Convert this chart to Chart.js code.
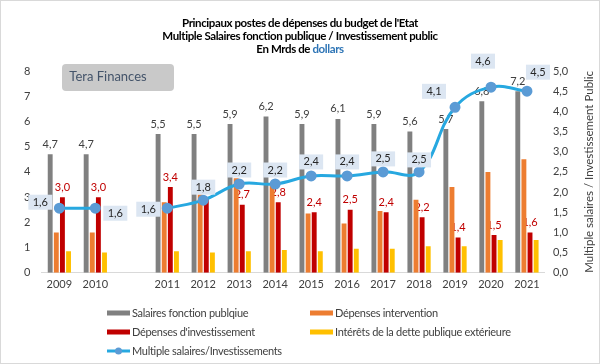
<!DOCTYPE html>
<html>
<head>
<meta charset="utf-8">
<script src="https://cdn.jsdelivr.net/npm/chart.js@4.4.1/dist/chart.umd.min.js"></script>
<style>
  html, body { margin: 0; padding: 0; background: #fff; }
  #wrap { width: 600px; height: 364px; position: relative; }
</style>
</head>
<body>
<div id="wrap"><canvas id="budgetChart"></canvas></div>
<script>
// Données (Mrds de dollars) - la colonne vide sépare 2010 et 2011
const years = ['2009', '2010', '', '2011', '2012', '2013', '2014', '2015', '2016', '2017', '2018', '2019', '2020', '2021'];
const salaires = [4.7, 4.7, null, 5.5, 5.5, 5.9, 6.2, 5.9, 6.1, 5.9, 5.6, 5.7, 6.8, 7.2];
const intervention = [1.6, 1.6, null, 2.8, 3.1, 3.75, 3.45, 2.35, 1.95, 2.45, 2.9, 3.4, 4.0, 4.5];
const investissement = [3.0, 3.0, null, 3.4, 3.0, 2.7, 2.8, 2.4, 2.5, 2.4, 2.2, 1.4, 1.5, 1.6];
const interets = [0.85, 0.8, null, 0.85, 0.8, 0.85, 0.9, 0.85, 0.95, 0.95, 1.05, 1.05, 1.3, 1.3];
const multiple = [1.6, 1.6, null, 1.6, 1.8, 2.2, 2.2, 2.4, 2.4, 2.5, 2.5, 4.1, 4.6, 4.5];

const titleLines = [
  'Principaux postes de dépenses du budget de l\'Etat',
  'Multiple Salaires fonction publique / Investissement public'
];
const rightTitle = 'Multiple salaires / Investissement Public';

// décalage des étiquettes bleues par rapport au point
const multOffsets = [[-19, -6], [20, 5], null, [-19, 1], [0, -13], [0, -14], [0, -14], [0, -14], [0, -14], [0, -13], [0, -12], [-21, -16], [-8, -26], [11, -19]];

const FONT = 'Lato, "Open Sans", sans-serif';
const fmt = v => v.toFixed(1).replace('.', ',');

function drawBarLabels(ctx, meta, values, color) {
  ctx.save();
  ctx.font = '11px ' + FONT;
  ctx.fillStyle = color;
  ctx.textAlign = 'center';
  ctx.textBaseline = 'middle';
  meta.data.forEach((bar, i) => {
    if (values[i] == null) return;
    ctx.fillText(fmt(values[i]), bar.x, bar.y - 10);
  });
  ctx.restore();
}

const decor = {
  id: 'decor',
  beforeDraw(chart) {
    const ctx = chart.ctx;
    ctx.save();
    ctx.fillStyle = '#fff';
    ctx.fillRect(0, 0, chart.width, chart.height);
    ctx.strokeStyle = '#d9d9d9';
    ctx.strokeRect(0.5, 0.5, chart.width - 1, chart.height - 1);
    ctx.restore();
  },
  beforeDatasetsDraw(chart) {
    // cartouche "Tera Finances"
    const ctx = chart.ctx;
    ctx.save();
    ctx.fillStyle = '#c9c9c9';
    ctx.beginPath();
    ctx.roundRect(62, 64, 112, 27, 4);
    ctx.fill();
    ctx.fillStyle = '#44546a';
    ctx.font = '13px ' + FONT;
    ctx.textAlign = 'center';
    ctx.textBaseline = 'middle';
    ctx.fillText('Tera Finances', 108, 77);
    ctx.restore();
  },
  afterDatasetDraw(chart, args) {
    if (args.index === 0) drawBarLabels(chart.ctx, args.meta, salaires, '#404040');
    if (args.index === 2) drawBarLabels(chart.ctx, args.meta, investissement, '#c00000');
  },
  afterDraw(chart) {
    const ctx = chart.ctx;
    const area = chart.chartArea;
    ctx.save();

    // titre
    ctx.fillStyle = '#000';
    ctx.font = 'bold 11.5px ' + FONT;
    ctx.letterSpacing = '-0.4px';
    ctx.textAlign = 'center';
    ctx.textBaseline = 'middle';
    ctx.fillText(titleLines[0], 300, 23);
    ctx.fillText(titleLines[1], 300, 36);
    const a = 'En Mrds de ', b = 'dollars';
    const wa = ctx.measureText(a).width, wb = ctx.measureText(b).width;
    const x0 = 300 - (wa + wb) / 2;
    ctx.textAlign = 'left';
    ctx.fillText(a, x0, 49);
    ctx.fillStyle = '#2e75b6';
    ctx.fillText(b, x0 + wa, 49);
    ctx.letterSpacing = '0px';

    // titre de l'axe droit, lu de bas en haut
    ctx.save();
    ctx.translate(589, (area.top + area.bottom) / 2);
    ctx.rotate(-Math.PI / 2);
    ctx.textAlign = 'center';
    ctx.fillStyle = '#404040';
    ctx.font = '11.5px ' + FONT;
    ctx.fillText(rightTitle, 0, 0);
    ctx.restore();

    // étiquettes du multiple
    const lineMeta = chart.getDatasetMeta(4);
    ctx.font = '11px ' + FONT;
    ctx.textAlign = 'center';
    lineMeta.data.forEach((pt, i) => {
      if (multiple[i] == null) return;
      const [dx, dy] = multOffsets[i];
      const cx = pt.x + dx, cy = pt.y + dy;
      ctx.fillStyle = '#dce6f2';
      ctx.fillRect(cx - 12, cy - 7.5, 24, 15);
      ctx.fillStyle = '#262626';
      ctx.fillText(fmt(multiple[i]), cx, cy);
    });

    // légende
    const items = chart.data.datasets;
    const pos = [[107, 313], [310, 313], [107, 332], [310, 332], [107, 351]];
    ctx.font = '11px ' + FONT;
    ctx.letterSpacing = '-0.3px';
    ctx.textAlign = 'left';
    items.forEach((ds, i) => {
      const [lx, ly] = pos[i];
      if (ds.type === 'line') {
        ctx.strokeStyle = ds.borderColor;
        ctx.lineWidth = 3;
        ctx.beginPath();
        ctx.moveTo(lx, ly);
        ctx.lineTo(lx + 23, ly);
        ctx.stroke();
        ctx.fillStyle = ds.pointBackgroundColor;
        ctx.beginPath();
        ctx.arc(lx + 11.5, ly, 3.5, 0, Math.PI * 2);
        ctx.fill();
      } else {
        ctx.fillStyle = ds.backgroundColor;
        ctx.fillRect(lx, ly - 2.5, 23, 5);
      }
      ctx.fillStyle = '#404040';
      ctx.fillText(ds.label, lx + 25, ly);
    });
    ctx.restore();
  }
};

const barBase = { categoryPercentage: 0.68, barPercentage: 0.8, yAxisID: 'y', order: 1 };

new Chart(document.getElementById('budgetChart'), {
  type: 'bar',
  data: {
    labels: years,
    datasets: [
      { ...barBase, label: 'Salaires fonction publqiue', data: salaires, backgroundColor: '#808080' },
      { ...barBase, label: 'Dépenses intervention', data: intervention, backgroundColor: '#ed7d31' },
      { ...barBase, label: 'Dépenses d\'investissement', data: investissement, backgroundColor: '#c00000' },
      { ...barBase, label: 'Intérêts de la dette publique extérieure', data: interets, backgroundColor: '#ffc000' },
      {
        type: 'line',
        label: 'Multiple salaires/Investissements',
        data: multiple,
        yAxisID: 'y1',
        order: 0,
        borderColor: '#27a8e0',
        borderWidth: 3,
        tension: 0.4,
        spanGaps: false,
        pointRadius: 4,
        pointBackgroundColor: '#5b9bd5',
        pointBorderColor: '#5b9bd5'
      }
    ]
  },
  options: {
    responsive: true,
    maintainAspectRatio: false,
    animation: false,
    layout: { padding: { top: 71, left: 13, right: 4, bottom: 68 } },
    plugins: {
      legend: { display: false },
      title: { display: false },
      tooltip: { enabled: false }
    },
    scales: {
      x: {
        grid: { display: false, drawTicks: false },
        border: { color: '#d9d9d9' },
        ticks: { color: '#404040', font: { family: FONT, size: 11 }, padding: 5, maxRotation: 0, autoSkip: false }
      },
      y: {
        position: 'left',
        min: 0, max: 8,
        grid: { display: false, drawTicks: false },
        border: { display: false },
        ticks: { stepSize: 1, color: '#404040', font: { family: FONT, size: 11 }, padding: 11 }
      },
      y1: {
        position: 'right',
        min: 0, max: 5,
        grid: { display: false, drawTicks: false },
        border: { display: false },
        ticks: { stepSize: 0.5, color: '#404040', font: { family: FONT, size: 11 }, padding: 8, callback: v => fmt(v) },
        // place réservée ; le texte est dessiné par le plugin
        title: { display: true, text: rightTitle, color: 'rgba(0,0,0,0)', font: { family: FONT, size: 11.5 }, padding: { top: 4, bottom: 2 } }
      }
    }
  },
  plugins: [decor]
});
</script>
</body>
</html>
